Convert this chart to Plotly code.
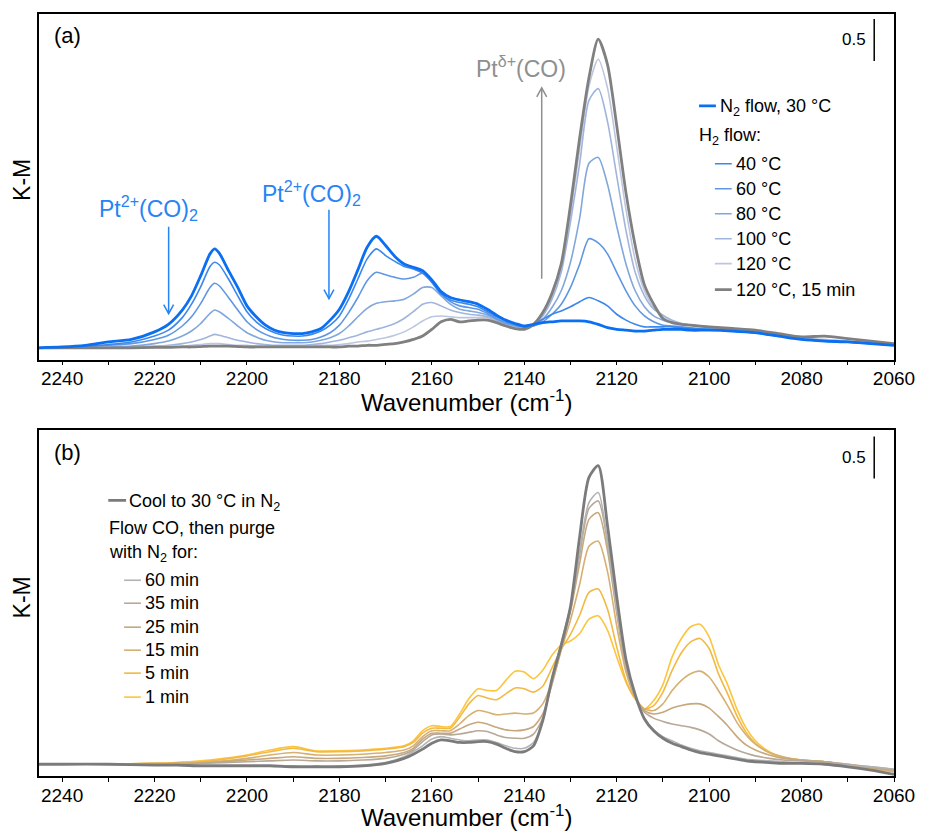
import plotly.graph_objects as go

# ---------------- data: panel (a) ----------------
X_A = [2245, 2240, 2235, 2230, 2225, 2220,
       2217, 2214, 2212, 2210, 2208, 2207, 2206, 2204, 2202, 2200,
       2198, 2196, 2194, 2192, 2190, 2188, 2186, 2184, 2182, 2180,
       2178, 2176, 2174, 2172, 2170, 2168, 2166, 2164, 2162, 2160,
       2158, 2156, 2154, 2152, 2150, 2148, 2146, 2144, 2142, 2140,
       2138, 2136, 2134, 2132, 2130, 2128, 2126, 2124, 2122, 2120,
       2118, 2116, 2114, 2112, 2110, 2108, 2106, 2104, 2100,
       2095, 2090, 2085, 2080, 2075, 2070, 2065, 2060]

A_N2 = [0.00, 0.01, 0.03, 0.07, 0.10, 0.19,
        0.28, 0.45, 0.62, 0.86, 1.12, 1.18, 1.13, 0.92, 0.72, 0.50,
        0.37, 0.27, 0.21, 0.18, 0.17, 0.17, 0.19, 0.23, 0.33, 0.46,
        0.67, 0.93, 1.20, 1.33, 1.22, 1.09, 1.00, 0.96, 0.92, 0.81,
        0.67, 0.60, 0.57, 0.55, 0.52, 0.46, 0.39, 0.33, 0.29, 0.26,
        0.28, 0.30, 0.31, 0.32, 0.32, 0.32, 0.31, 0.28, 0.24, 0.22,
        0.21, 0.20, 0.20, 0.21, 0.22, 0.22, 0.22, 0.21, 0.21,
        0.20, 0.18, 0.14, 0.10, 0.08, 0.07, 0.05, 0.03]
A_40 = [0.00, 0.005, 0.02, 0.04, 0.07, 0.14,
        0.21, 0.36, 0.52, 0.73, 0.97, 1.02, 0.99, 0.82, 0.62, 0.43,
        0.31, 0.23, 0.18, 0.15, 0.14, 0.14, 0.16, 0.20, 0.27, 0.38,
        0.58, 0.82, 1.06, 1.18, 1.10, 1.03, 0.97, 0.94, 0.89, 0.78,
        0.64, 0.57, 0.54, 0.52, 0.49, 0.43, 0.37, 0.32, 0.28, 0.25,
        0.28, 0.34, 0.40, 0.44, 0.49, 0.55, 0.60, 0.56, 0.50, 0.40,
        0.33, 0.28, 0.25, 0.25, 0.25, 0.25, 0.24, 0.23, 0.22,
        0.20, 0.18, 0.14, 0.10, 0.08, 0.07, 0.05, 0.03]
A_60 = [0.00, 0.00, 0.01, 0.03, 0.05, 0.10,
        0.15, 0.26, 0.37, 0.53, 0.72, 0.77, 0.74, 0.60, 0.45, 0.31,
        0.22, 0.16, 0.12, 0.10, 0.09, 0.09, 0.10, 0.13, 0.18, 0.27,
        0.42, 0.60, 0.80, 0.90, 0.87, 0.84, 0.82, 0.84, 0.89, 0.80,
        0.65, 0.55, 0.50, 0.48, 0.46, 0.41, 0.35, 0.30, 0.27, 0.25,
        0.26, 0.31, 0.40, 0.52, 0.72, 1.00, 1.30, 1.25, 1.12, 0.90,
        0.68, 0.50, 0.38, 0.31, 0.27, 0.26, 0.25, 0.24, 0.22,
        0.20, 0.18, 0.14, 0.10, 0.08, 0.07, 0.05, 0.03]
A_80 = [0.00, 0.00, 0.00, 0.01, 0.02, 0.05,
        0.08, 0.14, 0.20, 0.29, 0.41, 0.45, 0.43, 0.35, 0.26, 0.18,
        0.13, 0.09, 0.07, 0.06, 0.06, 0.06, 0.07, 0.09, 0.12, 0.17,
        0.26, 0.37, 0.47, 0.53, 0.55, 0.56, 0.58, 0.64, 0.72, 0.72,
        0.62, 0.52, 0.46, 0.44, 0.42, 0.39, 0.34, 0.29, 0.26, 0.24,
        0.26, 0.34, 0.48, 0.68, 1.02, 1.55, 2.20, 2.27, 1.95, 1.45,
        1.00, 0.68, 0.49, 0.38, 0.33, 0.30, 0.28, 0.27, 0.24,
        0.21, 0.18, 0.14, 0.11, 0.09, 0.07, 0.05, 0.03]
A_100 = [0.00, 0.00, 0.00, 0.00, 0.01, 0.02,
         0.03, 0.05, 0.07, 0.10, 0.14, 0.16, 0.15, 0.12, 0.09, 0.07,
         0.05, 0.04, 0.03, 0.03, 0.03, 0.03, 0.04, 0.05, 0.07, 0.09,
         0.12, 0.15, 0.19, 0.22, 0.25, 0.29, 0.35, 0.43, 0.52, 0.54,
         0.50, 0.45, 0.42, 0.40, 0.39, 0.37, 0.33, 0.29, 0.26, 0.24,
         0.27, 0.38, 0.58, 0.90, 1.50, 2.20, 2.95, 3.09, 2.70, 2.05,
         1.40, 0.90, 0.62, 0.46, 0.39, 0.33, 0.29, 0.27, 0.25,
         0.22, 0.19, 0.15, 0.11, 0.09, 0.08, 0.06, 0.04]
A_120 = [0.00, 0.00, 0.00, 0.00, 0.005, 0.01,
         0.01, 0.02, 0.03, 0.04, 0.05, 0.05, 0.05, 0.04, 0.03, 0.03,
         0.02, 0.02, 0.02, 0.02, 0.02, 0.02, 0.02, 0.03, 0.03, 0.04,
         0.05, 0.07, 0.08, 0.10, 0.12, 0.15, 0.19, 0.25, 0.32, 0.37,
         0.38, 0.37, 0.36, 0.36, 0.36, 0.36, 0.32, 0.28, 0.25, 0.23,
         0.27, 0.40, 0.62, 0.97, 1.60, 2.38, 3.12, 3.44, 3.10, 2.40,
         1.65, 1.05, 0.68, 0.48, 0.38, 0.32, 0.29, 0.27, 0.25,
         0.22, 0.19, 0.15, 0.11, 0.10, 0.08, 0.06, 0.04]
A_GRAY = [0.00, 0.00, 0.00, 0.00, 0.00, 0.005,
          0.005, 0.01, 0.01, 0.015, 0.02, 0.02, 0.02, 0.02, 0.015, 0.01,
          0.01, 0.01, 0.01, 0.01, 0.01, 0.01, 0.01, 0.01, 0.01, 0.01,
          0.02, 0.02, 0.03, 0.03, 0.04, 0.05, 0.07, 0.10, 0.14, 0.22,
          0.31, 0.34, 0.31, 0.32, 0.33, 0.33, 0.30, 0.26, 0.23, 0.22,
          0.28, 0.42, 0.65, 1.00, 1.70, 2.51, 3.22, 3.68, 3.38, 2.65,
          1.85, 1.22, 0.75, 0.52, 0.35, 0.30, 0.28, 0.27, 0.25,
          0.23, 0.21, 0.17, 0.13, 0.14, 0.11, 0.08, 0.05]

A_NAMES = ["N2 flow, 30 °C", "40 °C", "60 °C", "80 °C", "100 °C", "120 °C", "120 °C, 15 min"]
A_COLORS = ["#0b6ff2", "#3c87ec", "#5f97e3", "#82a7dc", "#a0b5dc", "#bcc6de", "#808080"]

# ---------------- data: panel (b) ----------------
X_B = [2245, 2240, 2230, 2220, 2215, 2210, 2205, 2200, 2195, 2190,
       2185, 2180, 2175, 2170, 2166, 2164, 2162, 2160, 2158, 2156,
       2154, 2152, 2150, 2148, 2146, 2144, 2142, 2140, 2138, 2136,
       2134, 2132, 2130, 2128, 2126, 2124, 2122, 2120, 2118, 2116,
       2114, 2112, 2110, 2108, 2106, 2104, 2102, 2100, 2098, 2096,
       2094, 2092, 2090, 2087, 2084, 2080, 2075, 2070, 2065, 2060]

B_COOL = [0.00, 0.00, 0.00, -0.01, -0.01, -0.02, -0.02, -0.02, -0.02, -0.03,
          -0.03, -0.03, -0.02, 0.01, 0.07, 0.12, 0.18, 0.25, 0.29, 0.28,
          0.26, 0.26, 0.27, 0.27, 0.24, 0.19, 0.15, 0.15, 0.22, 0.52,
          1.02, 1.42, 1.88, 2.72, 3.42, 3.56, 2.85, 2.00, 1.25, 0.83,
          0.54, 0.40, 0.31, 0.25, 0.21, 0.17, 0.14, 0.12, 0.10, 0.08,
          0.06, 0.04, 0.03, 0.02, 0.01, 0.01, 0.00, -0.03, -0.07, -0.12]
B_60 = [0.00, 0.00, 0.00, -0.01, -0.01, -0.01, -0.01, -0.01, -0.01, -0.02,
        -0.02, -0.02, -0.01, 0.02, 0.09, 0.15, 0.22, 0.30, 0.33, 0.31,
        0.29, 0.28, 0.29, 0.29, 0.26, 0.22, 0.19, 0.19, 0.26, 0.52,
        1.02, 1.45, 1.88, 2.55, 3.12, 3.24, 2.65, 1.85, 1.18, 0.80,
        0.55, 0.41, 0.33, 0.28, 0.23, 0.19, 0.16, 0.14, 0.12, 0.10,
        0.08, 0.06, 0.05, 0.04, 0.03, 0.02, 0.01, -0.01, -0.03, -0.06]
B_35 = [0.00, 0.00, 0.00, 0.00, 0.00, 0.01, 0.02, 0.03, 0.04, 0.05,
        0.04, 0.04, 0.05, 0.07, 0.12, 0.17, 0.27, 0.35, 0.36, 0.35,
        0.36, 0.38, 0.40, 0.39, 0.35, 0.32, 0.31, 0.31, 0.36, 0.55,
        1.00, 1.42, 1.85, 2.50, 3.05, 3.14, 2.65, 1.85, 1.20, 0.82,
        0.62, 0.55, 0.51, 0.48, 0.46, 0.44, 0.41, 0.36, 0.28, 0.22,
        0.17, 0.13, 0.10, 0.07, 0.05, 0.04, 0.03, 0.00, -0.03, -0.06]
B_25 = [0.00, 0.00, 0.00, 0.00, 0.01, 0.01, 0.03, 0.05, 0.07, 0.09,
        0.07, 0.07, 0.08, 0.10, 0.14, 0.19, 0.30, 0.37, 0.37, 0.37,
        0.42, 0.47, 0.50, 0.48, 0.44, 0.41, 0.40, 0.41, 0.45, 0.60,
        0.95, 1.38, 1.82, 2.40, 2.92, 3.00, 2.55, 1.80, 1.15, 0.80,
        0.64, 0.60, 0.62, 0.67, 0.70, 0.72, 0.72, 0.67, 0.57, 0.46,
        0.33, 0.23, 0.17, 0.11, 0.07, 0.05, 0.03, 0.00, -0.04, -0.07]
B_15 = [0.00, 0.00, 0.00, 0.01, 0.01, 0.02, 0.04, 0.07, 0.11, 0.14,
        0.11, 0.11, 0.12, 0.14, 0.17, 0.22, 0.33, 0.40, 0.40, 0.40,
        0.48, 0.58, 0.64, 0.62, 0.59, 0.60, 0.61, 0.60, 0.61, 0.72,
        0.98, 1.36, 1.72, 2.15, 2.60, 2.66, 2.30, 1.65, 1.10, 0.80,
        0.66, 0.64, 0.72, 0.88, 1.00, 1.08, 1.11, 1.04, 0.88, 0.70,
        0.50, 0.35, 0.24, 0.14, 0.09, 0.05, 0.03, -0.01, -0.05, -0.08]
B_5 = [0.00, 0.00, 0.00, 0.01, 0.02, 0.03, 0.06, 0.10, 0.15, 0.19,
       0.15, 0.15, 0.16, 0.18, 0.21, 0.26, 0.37, 0.43, 0.43, 0.43,
       0.56, 0.72, 0.82, 0.79, 0.77, 0.84, 0.91, 0.90, 0.86, 0.93,
       1.15, 1.37, 1.55, 1.78, 2.05, 2.09, 1.85, 1.40, 1.00, 0.78,
       0.66, 0.70, 0.86, 1.12, 1.33, 1.46, 1.50, 1.38, 1.08, 0.84,
       0.58, 0.38, 0.25, 0.14, 0.08, 0.05, 0.03, -0.01, -0.05, -0.09]
B_1 = [0.00, 0.00, 0.00, 0.01, 0.02, 0.04, 0.07, 0.11, 0.17, 0.21,
       0.16, 0.16, 0.17, 0.19, 0.22, 0.28, 0.40, 0.46, 0.45, 0.45,
       0.60, 0.78, 0.90, 0.88, 0.88, 1.00, 1.11, 1.10, 1.02, 1.12,
       1.30, 1.42, 1.47, 1.56, 1.73, 1.77, 1.60, 1.28, 0.98, 0.78,
       0.66, 0.76, 0.95, 1.28, 1.50, 1.64, 1.67, 1.52, 1.19, 0.95,
       0.66, 0.43, 0.28, 0.15, 0.08, 0.05, 0.03, -0.01, -0.05, -0.09]

B_NAMES = ["Cool to 30 °C in N2", "60 min", "35 min", "25 min", "15 min", "5 min", "1 min"]
B_COLORS = ["#7b7b7b", "#b3b3b3", "#b8a896", "#c6a87c", "#d6af72", "#f2b944", "#fcc53c"]

X_RANGE = [2245, 2060]
Y_RANGE = [-0.14, 3.98]
X_TICKS = [2240, 2220, 2200, 2180, 2160, 2140, 2120, 2100, 2080, 2060]

FONT = "Arial, 'Liberation Sans', sans-serif"

# pixel -> data helpers (layout positioning only)
PX_PER_X = 864 / 185.0
PX_PER_Y = 346 / 4.12
def dx(px):
    return 2245 - (px - 39) / PX_PER_X
def dya(py):
    return 3.98 - (py - 13) / PX_PER_Y
def dyb(py):
    return 3.98 - (py - 430) / PX_PER_Y

fig = go.Figure()

a_series = [A_N2, A_40, A_60, A_80, A_100, A_120, A_GRAY]
a_widths = [2.8, 1.6, 1.6, 1.6, 1.6, 1.6, 2.8]
order_a = [5, 4, 3, 2, 1, 6, 0]
for i in order_a:
    fig.add_trace(go.Scatter(x=X_A, y=a_series[i], mode="lines", name=A_NAMES[i],
                             line=dict(color=A_COLORS[i], width=a_widths[i], shape="spline", smoothing=0.7),
                             xaxis="x", yaxis="y", showlegend=False, hoverinfo="skip"))

b_series = [B_COOL, B_60, B_35, B_25, B_15, B_5, B_1]
b_widths = [2.8, 1.6, 1.6, 1.6, 1.6, 1.6, 1.6]
order_b = [6, 5, 4, 3, 2, 1, 0]
for i in order_b:
    fig.add_trace(go.Scatter(x=X_B, y=b_series[i], mode="lines", name=B_NAMES[i],
                             line=dict(color=B_COLORS[i], width=b_widths[i], shape="spline", smoothing=0.7),
                             xaxis="x2", yaxis="y2", showlegend=False, hoverinfo="skip"))

shapes = []
annotations = []

def arrow(xr, yr, x, y0, y1, color, up):
    shapes.append(dict(type="line", xref=xr, yref=yr, x0=x, x1=x, y0=y0, y1=y1,
                       line=dict(color=color, width=1.5)))
    hx = 5 / PX_PER_X
    hy = 9 / PX_PER_Y
    tip = y1
    base = tip - hy if up else tip + hy
    shapes.append(dict(type="path", xref=xr, yref=yr,
                       path=f"M {x - hx},{base} L {x},{tip} L {x + hx},{base}",
                       line=dict(color=color, width=1.5)))

BLUE_TXT = "#2684f5"
GRAY_TXT = "#8f8f8f"
arrow("x", "y", dx(170), dya(226), dya(313), BLUE_TXT, False)
arrow("x", "y", dx(332), dya(209), dya(298), BLUE_TXT, False)
arrow("x", "y", dx(547), dya(278), dya(87), GRAY_TXT, True)

annotations.append(dict(x=dx(150), y=dya(207), xref="x", yref="y", showarrow=False,
                        text="Pt<sup>2+</sup>(CO)<sub>2</sub>", font=dict(size=23, color=BLUE_TXT, family=FONT)))
annotations.append(dict(x=dx(314), y=dya(192), xref="x", yref="y", showarrow=False,
                        text="Pt<sup>2+</sup>(CO)<sub>2</sub>", font=dict(size=23, color=BLUE_TXT, family=FONT)))
annotations.append(dict(x=dx(526), y=dya(66), xref="x", yref="y", showarrow=False,
                        text="Pt<sup>δ+</sup>(CO)", font=dict(size=23, color=GRAY_TXT, family=FONT)))

# panel labels
annotations.append(dict(x=dx(68), y=dya(35), xref="x", yref="y", showarrow=False,
                        text="(a)", font=dict(size=22, color="black", family=FONT)))
annotations.append(dict(x=dx(68), y=dyb(452), xref="x2", yref="y2", showarrow=False,
                        text="(b)", font=dict(size=22, color="black", family=FONT)))

# scale bars
for xr, yr, fy, top in (("x", "y", dya, 18), ("x2", "y2", dyb, 436)):
    shapes.append(dict(type="line", xref=xr, yref=yr, x0=dx(883), x1=dx(883),
                       y0=fy(top), y1=fy(top) - 0.5, line=dict(color="black", width=1.5)))
    annotations.append(dict(x=dx(863), y=fy(top + 21), xref=xr, yref=yr, showarrow=False,
                            text="0.5", font=dict(size=17, color="black", family=FONT)))

# custom legends
LEG_FONT = 18
def leg_line(xr, yr, fy, x0, x1, y, color, width):
    shapes.append(dict(type="line", xref=xr, yref=yr, x0=dx(x0), x1=dx(x1), y0=fy(y), y1=fy(y),
                       line=dict(color=color, width=width)))
def leg_text(xr, yr, fy, x, y, text):
    annotations.append(dict(x=dx(x), y=fy(y), xref=xr, yref=yr, showarrow=False, xanchor="left",
                            yanchor="middle", text=text, font=dict(size=LEG_FONT, color="black", family=FONT)))

# legend (a)
leg_line("x", "y", dya, 706, 723, 105, A_COLORS[0], 2.8)
leg_text("x", "y", dya, 725, 107, "N<sub>2</sub> flow, 30 °C")
leg_text("x", "y", dya, 704, 136, "H<sub>2</sub> flow:")
a_rows = [163, 188, 213, 238, 263, 289]
a_labels = ["40 °C", "60 °C", "80 °C", "100 °C", "120 °C", "120 °C, 15 min"]
for k, (yy, lab) in enumerate(zip(a_rows, a_labels)):
    leg_line("x", "y", dya, 722, 739, yy, A_COLORS[k + 1], a_widths[k + 1])
    leg_text("x", "y", dya, 741, yy, lab)

# legend (b)
leg_line("x2", "y2", dyb, 109, 127, 500, B_COLORS[0], 2.8)
leg_text("x2", "y2", dyb, 128, 502, "Cool to 30 °C in N<sub>2</sub>")
leg_text("x2", "y2", dyb, 108, 528, "Flow CO, then purge")
leg_text("x2", "y2", dyb, 108, 553, "with N<sub>2</sub> for:")
b_rows = [580, 603, 627, 650, 673, 697]
b_labels = ["60 min", "35 min", "25 min", "15 min", "5 min", "1 min"]
for k, (yy, lab) in enumerate(zip(b_rows, b_labels)):
    leg_line("x2", "y2", dyb, 125, 142, yy, B_COLORS[k + 1], 1.6)
    leg_text("x2", "y2", dyb, 144, yy, lab)

# axis titles (bottom-anchored so that the lower one stays inside the page)
for ypx in (418, 833):
    annotations.append(dict(x=0.5, y=(776 - ypx) / 763.0, xref="paper", yref="paper", showarrow=False,
                            xanchor="center", yanchor="bottom",
                            text="Wavenumber (cm<sup>-1</sup>)", font=dict(size=24, color="black", family=FONT)))
for ypx in (179, 597):
    annotations.append(dict(x=(22 - 39) / 864.0, y=(776 - ypx) / 763.0, xref="paper", yref="paper",
                            showarrow=False, textangle=-90, text="K-M", xanchor="center", yanchor="middle",
                            font=dict(size=23, color="black", family=FONT)))

xax = dict(range=X_RANGE, tickvals=X_TICKS, ticks="outside", ticklen=4, tickwidth=1.3, tickcolor="black",
           minor=dict(dtick=10, ticks="outside", ticklen=4, tickwidth=1.3, tickcolor="black"),
           showline=True, linecolor="black", linewidth=1.6, mirror=True, showgrid=False, zeroline=False,
           ticklabelstandoff=-3,
           tickfont=dict(size=19, color="black", family=FONT))
yax = dict(range=Y_RANGE, showticklabels=False, ticks="", showline=True, linecolor="black", linewidth=1.6,
           mirror=True, showgrid=False, zeroline=False)

fig.update_layout(
    width=927, height=833,
    margin=dict(l=39, r=24, t=13, b=57),
    paper_bgcolor="white", plot_bgcolor="white",
    showlegend=False,
    xaxis=dict(xax, domain=[0, 1], anchor="y"),
    yaxis=dict(yax, domain=[417 / 763.0, 1], anchor="x"),
    xaxis2=dict(xax, domain=[0, 1], anchor="y2"),
    yaxis2=dict(yax, domain=[0, 346 / 763.0], anchor="x2"),
    shapes=shapes,
    annotations=annotations,
    font=dict(family=FONT, color="black"),
)

fig.write_html("out.html")
